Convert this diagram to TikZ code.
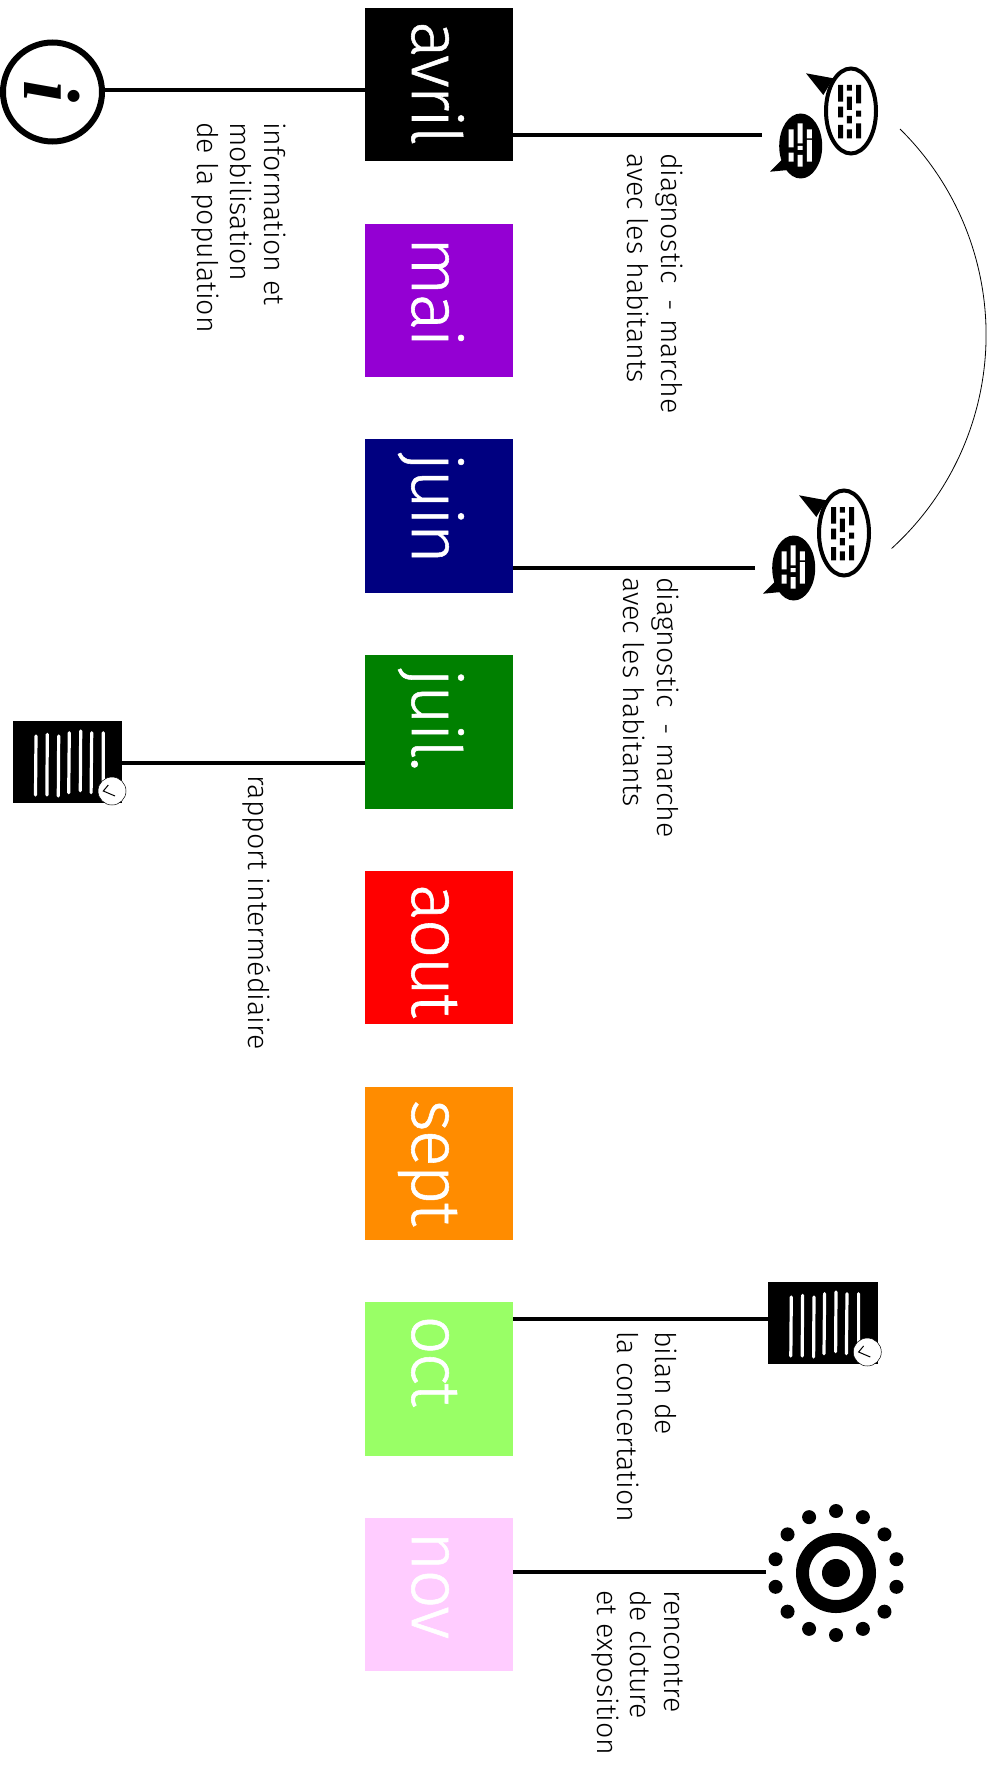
\documentclass[tikz,border=0pt]{standalone}
\usepackage{fontspec}
\usetikzlibrary{calc}
\setmainfont{Fira Sans Light}
\newfontfamily\iconfont{Liberation Serif}
\newfontfamily\monthfont[LetterSpace=-3,FakeBold=0.8]{Fira Sans Light}
\tikzset{
  x=1pt,y=-1pt,
  monthbox/.style={draw=none,minimum width=148pt,minimum height=153.5pt,inner sep=0pt,outer sep=0pt,anchor=north west},
  monthtext/.style={rotate=-90,anchor=base west,inner sep=0pt,text=white,font=\monthfont\fontsize{69}{69}\selectfont},
  labeltext/.style={rotate=-90,anchor=north west,inner sep=0pt,align=left,text=black,font=\fontsize{28.5}{33.5}\selectfont},
  link/.style={line width=3.3pt,black},
  pics/report/.style={code={
    \fill[black] (0,0) rectangle (109.5,82);
    \draw[white,line width=3.2pt,line cap=round]
      (23.3,15)--(22.8,74) (34.6,13.3)--(34.2,74) (46,15)--(45.6,75)
      (56.6,11.7)--(56,71.7) (68,10)--(67.6,69.7) (79,11.7)--(78.4,71.7) (90.6,11.7)--(90.6,60);
    \draw[black,line width=.5pt,fill=white] (99.3,70) circle[radius=14];
    \draw[black,line width=1pt] (95.6,64)--(90.6,70)--(102.3,75);
  }},
  pics/speech/.style={code={
    \fill[black] (-45,-35.7)--(-17.7,-30.7)--(-27.7,-14)--cycle;
    \draw[black,line width=4pt,fill=white] (0,2) ellipse[x radius=25,y radius=42.5];
    \fill[black]
      (-12.8,-24) rectangle (-7.8,-7.3) (-12.8,-2.3) rectangle (-7.8,8.3) (-12.8,16) rectangle (-7.8,29.3)
      (-4.2,-24) rectangle (.8,-18.3) (-4.2,-12.3) rectangle (.8,1) (-4.2,7) rectangle (.8,14.3) (-4.2,20.3) rectangle (.8,29.3)
      (5.2,-24) rectangle (10.2,-5.7) (5.2,1.7) rectangle (10.2,7.7) (5.2,14.3) rectangle (10.2,29.3);
    \fill[black] (-81,62.7)--(-69.3,51)--(-62.7,61)--cycle;
    \fill[black] (-50.3,37) ellipse[x radius=21.5,y radius=32.5];
    \begin{scope}[shift={(-50.3,36)}]
      \fill[white]
        (-12.2,-15.7) rectangle (-7.2,2.3) (-12.2,7.7) rectangle (-7.2,16.7)
        (-3.2,-21.7) rectangle (1.8,-1.7) (-3.2,1) rectangle (1.8,5) (-3.2,10) rectangle (1.8,21.7)
        (6.2,-15.7) rectangle (11.2,-6.7) (6.2,-5) rectangle (11.2,16.7);
    \end{scope}
  }},
}
\definecolor{cmai}{HTML}{9400D3}
\definecolor{cjuin}{HTML}{000080}
\definecolor{cjuil}{HTML}{008000}
\definecolor{caout}{HTML}{FF0000}
\definecolor{csept}{HTML}{FF8C00}
\definecolor{coct}{HTML}{99FF66}
\definecolor{cnov}{HTML}{FFCCFF}
\begin{document}
\begin{tikzpicture}
\useasboundingbox (0,0) rectangle (995,1771);
% month boxes
\foreach \nm/\txt/\col/\i in {avril/avril/black/0,mai/mai/cmai/1,juin/juin/cjuin/2,juil/juil./cjuil/3,aout/aout/caout/4,sept/sept/csept/5,oct/oct/coct/6,nov/nov/cnov/7}{
  \node[monthbox,fill=\col] (\nm) at (365,{8+\i*215.7}) {};
  \node[monthtext] (t\nm) at (412,{21+\i*215.7}) {\txt};
}
% icons
\node[circle,draw=black,line width=6pt,minimum size=99pt,inner sep=0pt] (info) at (52.5,92) {};
\node[rotate=-90,inner sep=0pt,font=\iconfont\bfseries\itshape\fontsize{80}{80}\selectfont] (infoi) at (52,92) {i};
\pic at (12.7,721) {report};
\pic at (768,1282) {report};
\pic at (851,109) {speech};
\pic at (844,531) {speech};
% target
\coordinate (target) at (836,1573);
\fill[black] (target) circle[radius=14];
\draw[black,line width=13pt] (target) circle[radius=33.5];
\foreach \k in {0,...,13}{
  \fill[black] ($(target)+({90+\k*360/14}:62)$) circle[radius=7];
}
% connector ends
\coordinate (einfo) at (105,90);
\coordinate (erap) at (122,763);
\coordinate (ed1) at (762,135);
\coordinate (ed2) at (755,568);
\coordinate (ebil) at (770,1319);
\coordinate (eren) at (766,1572);
\draw[link] (einfo) -- (einfo -| avril.west);
\draw[link] (erap) -- (erap -| juil.west);
\draw[link] (ed1) -- (ed1 -| avril.east);
\draw[link] (ed2) -- (ed2 -| juin.east);
\draw[link] (ebil) -- (ebil -| oct.east);
\draw[link] (eren) -- (eren -| nov.east);
% arc
\coordinate (arcs) at (900,129);
\draw[black,line width=.8pt] (arcs) arc[start angle=-45.4,end angle=47.7,radius=289];
% labels
\node[labeltext] (l1) at (286,122) {information et\\mobilisation\\de la population};
\node[labeltext] (l2) at (683,153) {diagnostic \ - marche\\avec les habitants};
\node[labeltext] (l3) at (679,577) {diagnostic \ - marche\\avec les habitants};
\node[labeltext] (l4) at (271,775) {rapport intermédiaire};
\node[labeltext,font=\fontsize{28.5}{37.5}\selectfont] (l5) at (677,1331) {bilan de\\la concertation};
\node[labeltext] (l6) at (683,1590) {rencontre\\de cloture\\et exposition};
\end{tikzpicture}
\end{document}
